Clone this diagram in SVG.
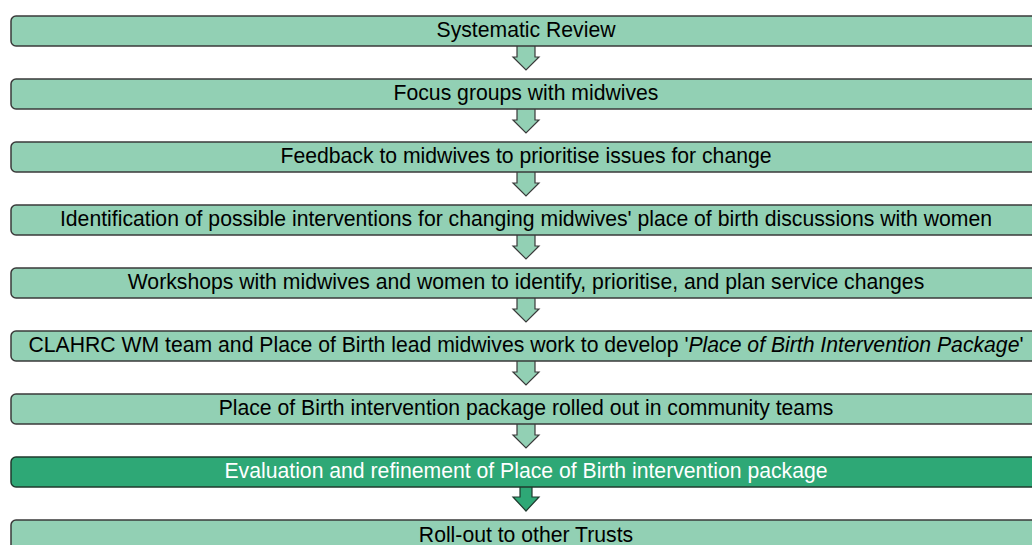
<svg xmlns="http://www.w3.org/2000/svg" width="1032" height="545" viewBox="0 0 1032 545">
<style>
.box{fill:#92D0B4;stroke:#3a3a3a;stroke-width:1.5}
.dark{fill:#2EA876;stroke:#1f3a2e;stroke-width:1.5}
.t{font-family:"Liberation Sans",Arial,sans-serif;font-size:21.2px;fill:#000;text-anchor:middle}
.tw{fill:#fff}
.arr{fill:#92D0B4;stroke:#3a3a3a;stroke-width:1.2}
.arrd{fill:#2EA876;stroke:#1f3a2e;stroke-width:1.2}
</style>
<defs>
<path id="a" d="M517,0 V11 H513 L526,24 L539,11 H535 V0"/>
</defs>
<g id="connectors">
<use href="#a" class="arr" y="46"/>
<use href="#a" class="arr" y="109"/>
<use href="#a" class="arr" y="172"/>
<use href="#a" class="arr" y="235"/>
<use href="#a" class="arr" y="298"/>
<use href="#a" class="arr" y="361"/>
<use href="#a" class="arr" y="424"/>
<path class="arrd" d="M520,487 V497 H513 L526,511 L539,497 H532 V487"/>
</g>
<g id="n1"><rect class="box" x="11" y="16" width="1030" height="30" rx="5"/><text class="t" x="526" y="37">Systematic Review</text></g>
<g id="n2"><rect class="box" x="11" y="79" width="1030" height="30" rx="5"/><text class="t" x="526" y="100">Focus groups with midwives</text></g>
<g id="n3"><rect class="box" x="11" y="142" width="1030" height="30" rx="5"/><text class="t" x="526" y="163">Feedback to midwives to prioritise issues for change</text></g>
<g id="n4"><rect class="box" x="11" y="205" width="1030" height="30" rx="5"/><text class="t" x="526" y="226">Identification of possible interventions for changing midwives' place of birth discussions with women</text></g>
<g id="n5"><rect class="box" x="11" y="268" width="1030" height="30" rx="5"/><text class="t" x="526" y="289">Workshops with midwives and women to identify, prioritise, and plan service changes</text></g>
<g id="n6"><rect class="box" x="11" y="331" width="1030" height="30" rx="5"/><text class="t" x="526" y="352">CLAHRC WM team and Place of Birth lead midwives work to develop '<tspan font-style="italic">Place of Birth Intervention Package</tspan>'</text></g>
<g id="n7"><rect class="box" x="11" y="394" width="1030" height="30" rx="5"/><text class="t" x="526" y="415">Place of Birth intervention package rolled out in community teams</text></g>
<g id="n8"><rect class="dark" x="11" y="457" width="1030" height="30" rx="5"/><text class="t tw" x="526" y="478">Evaluation and refinement of Place of Birth intervention package</text></g>
<g id="n9"><rect class="box" x="11" y="520" width="1030" height="30" rx="5"/><text class="t" x="526" y="542">Roll-out to other Trusts</text></g>
</svg>
